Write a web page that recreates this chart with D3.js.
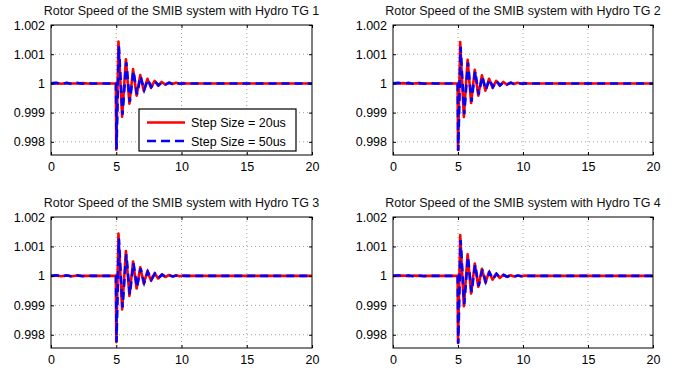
<!DOCTYPE html>
<html>
<head>
<meta charset="utf-8">
<script src="https://cdn.jsdelivr.net/npm/d3@7"></script>
<style>
  body { margin: 0; background: #fff; }
  svg { font-family: "Liberation Sans", Arial, Helvetica, sans-serif; }
</style>
</head>
<body>
<div id="chart"></div>
<script>
// panel titles
var titles = [
  "Rotor Speed of the SMIB system with Hydro TG 1",
  "Rotor Speed of the SMIB system with Hydro TG 2",
  "Rotor Speed of the SMIB system with Hydro TG 3",
  "Rotor Speed of the SMIB system with Hydro TG 4"
];
var seriesNames = ["Step Size = 20us", "Step Size = 50us"];
var xTicks = [0, 5, 10, 15, 20];
var yTicks = [0.998, 0.999, 1, 1.001, 1.002];

// time samples (s) at the turning points
var timeRed = [0, 0.4, 0.8, 1.2, 1.6, 2.0, 2.4, 2.8, 3.2, 3.6, 4.0, 4.4, 4.8,
  4.97, 5.0, 5.17, 5.45, 5.74, 6.01, 6.29, 6.56, 6.84, 7.11, 7.39, 7.66, 7.94,
  8.21, 8.49, 8.76, 9.04, 9.31, 9.59, 9.86, 10.14, 10.41, 10.7, 20];
var timeBlue = [0, 0.4, 0.8, 1.2, 1.6, 2.0, 2.4, 2.8, 3.2, 3.6, 4.0, 4.4, 4.8,
  4.98, 5.02, 5.2, 5.48, 5.77, 6.04, 6.32, 6.59, 6.87, 7.14, 7.42, 7.69, 7.97,
  8.24, 8.52, 8.79, 9.07, 9.34, 9.62, 9.89, 10.17, 10.44, 10.73, 20];

// rotor speed (pu)
var tg1Red = [1, 1.00001, 0.99999, 1.00001, 1, 1, 1.00001, 1, 0.99999, 1, 1, 1, 1,
  1, 0.99773, 1.00143, 0.99886, 1.00083, 0.99931, 1.00049, 0.99958, 1.00029, 0.99974,
  1.00016, 0.99985, 1.00009, 0.99992, 1.00005, 0.99996, 1.00003, 0.99998, 1.00002,
  0.99999, 1.00001, 1, 1, 1];
var tg1Blue = [1, 1.00002, 0.99998, 1.00002, 0.99998, 1.00002, 0.99999, 1.00001, 1, 1, 1, 1, 1,
  1, 0.99775, 1.00127, 0.99893, 1.00072, 0.99937, 1.00042, 0.99963, 1.00024, 0.99978,
  1.00013, 0.99988, 1.00007, 0.99994, 1.00004, 0.99997, 1.00002, 0.99998, 1.00001,
  0.99999, 1, 1, 1, 1];
var tg2Red = [1, 1, 1.00001, 0.99999, 1, 1.00001, 1, 1, 1, 1, 1, 1, 1,
  1, 0.99772, 1.00142, 0.99885, 1.00081, 0.99933, 1.00047, 0.99958, 1.00028, 0.99975,
  1.00016, 0.99985, 1.00009, 0.99992, 1.00005, 0.99996, 1.00003, 0.99998, 1.00002,
  0.99999, 1.00001, 1, 1, 1];
var tg2Blue = [1, 1.00002, 0.99999, 1.00002, 0.99998, 1.00001, 0.99999, 1.00001, 1, 1, 1, 1, 1,
  1, 0.99770, 1.00125, 0.99895, 1.00071, 0.99938, 1.00041, 0.99962, 1.00024, 0.99978,
  1.00014, 0.99988, 1.00008, 0.99994, 1.00004, 0.99997, 1.00002, 0.99998, 1.00001,
  0.99999, 1, 1, 1, 1];
var tg3Red = [1, 1.00001, 0.99999, 1.00001, 0.99999, 1.00001, 1, 1, 1, 1, 1, 1, 1,
  1, 0.99775, 1.00144, 0.99886, 1.00084, 0.99932, 1.00049, 0.99957, 1.00029, 0.99973,
  1.00017, 0.99984, 1.00009, 0.99991, 1.00005, 0.99996, 1.00003, 0.99998, 1.00002,
  0.99999, 1.00001, 1, 1, 1];
var tg3Blue = [1, 1.00002, 0.99998, 1.00002, 0.99998, 1.00002, 0.99999, 1.00001, 1, 1, 1, 1, 1,
  1, 0.99775, 1.00127, 0.99893, 1.00073, 0.99937, 1.00043, 0.99962, 1.00025, 0.99977,
  1.00014, 0.99987, 1.00008, 0.99993, 1.00004, 0.99997, 1.00002, 0.99998, 1.00001,
  0.99999, 1, 1, 1, 1];
var tg4Red = [1, 1, 1.00001, 0.99999, 1.00001, 1, 1, 1, 1, 1, 1, 1, 1,
  1, 0.99772, 1.00139, 0.99897, 1.00073, 0.99940, 1.00042, 0.99963, 1.00024, 0.99977,
  1.00014, 0.99987, 1.00008, 0.99993, 1.00004, 0.99997, 1.00002, 0.99998, 1.00001,
  0.99999, 1.00001, 1, 1, 1];
var tg4Blue = [1, 1.00002, 0.99999, 1.00002, 0.99998, 1.00001, 0.99999, 1, 1, 1, 1, 1, 1,
  1, 0.99770, 1.00122, 0.99904, 1.00065, 0.99945, 1.00037, 0.99966, 1.00021, 0.99980,
  1.00012, 0.99989, 1.00007, 0.99994, 1.00003, 0.99997, 1.00002, 0.99998, 1.00001,
  0.99999, 1, 1, 1, 1];

var panelRed = [tg1Red, tg2Red, tg3Red, tg4Red];
var panelBlue = [tg1Blue, tg2Blue, tg3Blue, tg4Blue];

var width = 692, height = 373;
// plot boxes: left, top, right, bottom
var boxes = [
  [51, 25, 312, 155],
  [393, 25, 653, 155],
  [51, 217, 312, 348],
  [393, 217, 653, 348]
];

var svg = d3.select("#chart").append("svg")
  .attr("width", width)
  .attr("height", height);

boxes.forEach(function(b, i) {
  var w = b[2] - b[0], h = b[3] - b[1];
  var g = svg.append("g").attr("transform", "translate(" + b[0] + "," + b[1] + ")");

  var x = d3.scaleLinear().domain([0, 20]).range([0, w]);
  var y = d3.scaleLinear().domain([0.99755, 1.002]).range([h, 0]);

  // dotted grid
  g.append("g").selectAll("line").data(xTicks.slice(1, -1)).enter().append("line")
    .attr("x1", d => x(d)).attr("x2", d => x(d))
    .attr("y1", 0).attr("y2", h)
    .attr("stroke", "#8a8a8a").attr("stroke-width", 0.8)
    .attr("stroke-dasharray", "1,3");
  g.append("g").selectAll("line").data(yTicks.slice(0, -1)).enter().append("line")
    .attr("x1", 0).attr("x2", w)
    .attr("y1", d => y(d)).attr("y2", d => y(d))
    .attr("stroke", "#8a8a8a").attr("stroke-width", 0.8)
    .attr("stroke-dasharray", "1,3");

  // series
  var line = d3.line().x(d => x(d[0])).y(d => y(d[1]));
  var red = timeRed.map((t, k) => [t, panelRed[i][k]]);
  var blue = timeBlue.map((t, k) => [t, panelBlue[i][k]]);
  var clip = "clip" + i;
  g.append("clipPath").attr("id", clip).append("rect")
    .attr("x", 0).attr("y", -2).attr("width", w).attr("height", h + 4);
  g.append("path").datum(red)
    .attr("clip-path", "url(#" + clip + ")")
    .attr("d", line).attr("fill", "none")
    .attr("stroke", "#ff0000").attr("stroke-width", 2.6)
    .attr("stroke-linejoin", "round");
  g.append("path").datum(blue)
    .attr("clip-path", "url(#" + clip + ")")
    .attr("d", line).attr("fill", "none")
    .attr("stroke", "#0000ff").attr("stroke-width", 2.6)
    .attr("stroke-dasharray", "8,5");

  // axes, MATLAB-style ticks inside
  var xAxis = g.append("g").attr("transform", "translate(0," + h + ")")
    .call(d3.axisBottom(x).tickValues(xTicks).tickSize(-3).tickPadding(7).tickFormat(d3.format("d")));
  var yAxis = g.append("g")
    .call(d3.axisLeft(y).tickValues(yTicks).tickSize(-3).tickPadding(6).tickFormat(d => d === 1 ? "1" : d3.format(".3f")(d)));
  g.append("g").call(d3.axisTop(x).tickValues(xTicks).tickSize(-3).tickFormat(""));
  g.append("g").attr("transform", "translate(" + w + ",0)")
    .call(d3.axisRight(y).tickValues(yTicks).tickSize(-3).tickFormat(""));
  g.selectAll(".domain").remove();
  g.selectAll(".tick line").attr("stroke", "#000");
  [xAxis, yAxis].forEach(a => a.selectAll("text")
    .attr("font-size", "12.5px").attr("fill", "#000"));
  g.append("rect").attr("width", w).attr("height", h)
    .attr("fill", "none").attr("stroke", "#000").attr("stroke-width", 1);

  // title
  g.append("text")
    .attr("x", w / 2).attr("y", -10)
    .attr("text-anchor", "middle")
    .attr("font-size", "12.5px")
    .attr("fill", "#111")
    .text(titles[i]);

  // legend in first panel only
  if (i === 0) {
    var lg = g.append("g").attr("transform", "translate(" + (139 - b[0]) + "," + (109 - b[1]) + ")");
    lg.append("rect").attr("width", 157).attr("height", 42)
      .attr("fill", "#fff").attr("stroke", "#000").attr("stroke-width", 1.2);
    seriesNames.forEach(function(name, k) {
      var yy = 13.5 + k * 18.5;
      lg.append("line").attr("x1", 8).attr("x2", 46).attr("y1", yy).attr("y2", yy)
        .attr("stroke", k === 0 ? "#ff0000" : "#0000ff").attr("stroke-width", 2.6)
        .attr("stroke-dasharray", k === 0 ? null : "9,5");
      lg.append("text").attr("x", 52).attr("y", yy + 4.5)
        .attr("font-size", "12.5px").text(name);
    });
  }
});
</script>
</body>
</html>
